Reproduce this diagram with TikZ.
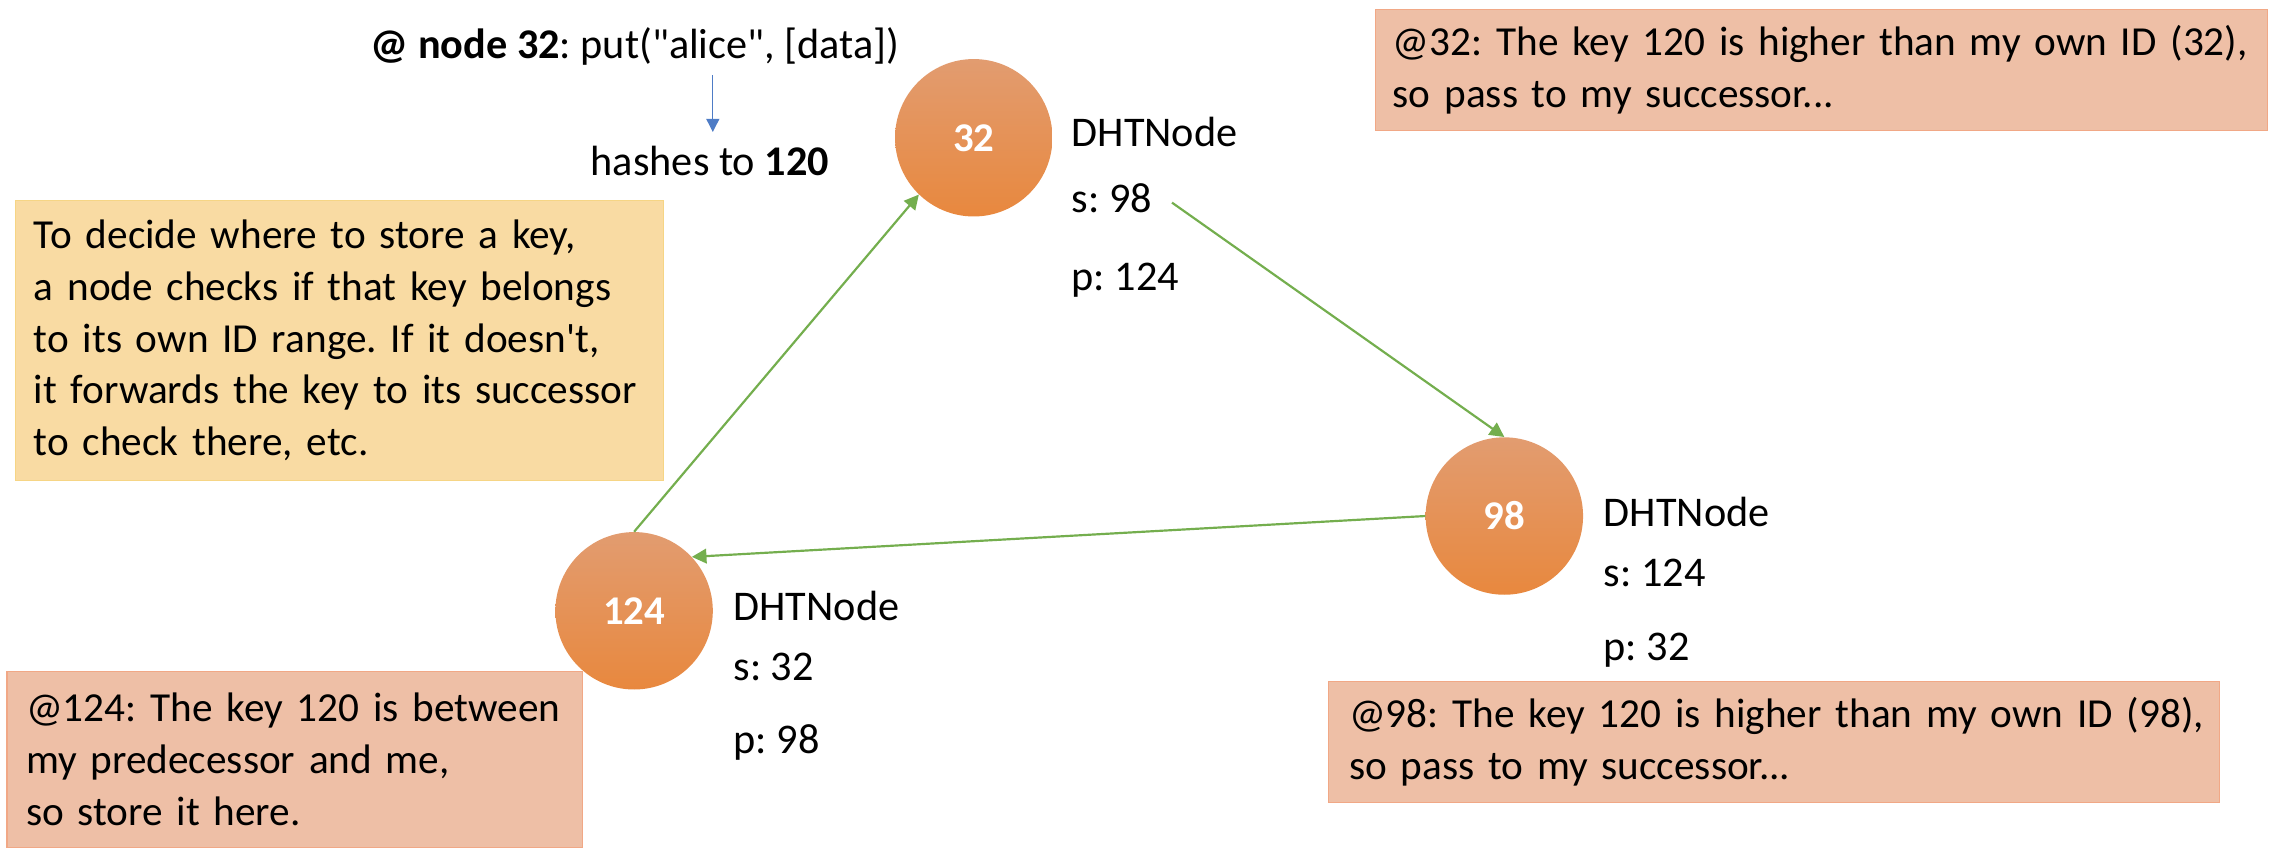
\documentclass[tikz,border=0pt]{standalone}
\usepackage{fontspec}
\setmainfont{Carlito}[Ligatures=TeXOff]
\frenchspacing
\usetikzlibrary{shapes.geometric,arrows.meta}
\definecolor{salmon}{HTML}{EEBFA6}
\definecolor{salmonline}{HTML}{F1A886}
\definecolor{yel}{HTML}{F9DBA3}
\definecolor{yelline}{HTML}{F6D585}
\definecolor{ctop}{HTML}{E29C70}
\definecolor{cbot}{HTML}{E8883E}
\definecolor{grn}{HTML}{74AE4E}
\definecolor{blu}{HTML}{4E7CC6}
\begin{document}
\begin{tikzpicture}[x=1pt,y=-1pt,
  txt/.style={font=\fontsize{29}{35.5}\selectfont},
  boxtxt/.style={font=\fontsize{28.3}{35.5}\selectfont},
  dht/.style={circle, minimum size=108pt, inner sep=0pt,
    top color=ctop, bottom color=cbot, draw=none, text=white,
    font=\fontsize{28}{30}\selectfont\bfseries},
  lbl/.style={txt, anchor=base west, inner sep=0pt},
  notebox/.style={boxtxt, draw=salmonline, fill=salmon, line width=1pt, align=left,
    anchor=north west, inner ysep=0pt},
  yelbox/.style={notebox, draw=yelline, fill=yel},
  link/.style={draw=grn, line width=1.5pt, -{Triangle[length=10pt,width=10pt]}},
  hash/.style={draw=blu, line width=0.8pt, -{Triangle[length=9pt,width=9pt]}}
]
\useasboundingbox (0,0) rectangle (1560,587);

% title and hash
\node[lbl] (title) at (254,40) {\textbf{@ node 32}: put("alice", [data])};
\node[txt, anchor=base, inner sep=0pt] (hash) at (487,120.5) {hashes to \textbf{120}};
\coordinate (hfrom) at (489,51.5);
\coordinate (hto) at (489,90.5);
\draw[hash] (hfrom) -- (hto);

% DHT nodes
\node[dht] (n32) at (668,94.5) {32};
\node[dht] (n98) at (1032,354) {98};
\node[dht] (n124) at (435,419) {124};

\node[lbl] (d32) at (735,100.6) {DHTNode};
\node[lbl] (s32) at (735,145.7) {s: 98};
\node[lbl] (p32) at (735,199) {p: 124};

\node[lbl] (d98) at (1100,361.5) {DHTNode};
\node[lbl] (s98) at (1100,402.5) {s: 124};
\node[lbl] (p98) at (1100,452.8) {p: 32};

\node[lbl] (d124) at (503,426) {DHTNode};
\node[lbl] (s124) at (503,466.5) {s: 32};
\node[lbl] (p124) at (503,516.7) {p: 98};

% links
\coordinate (sfrom) at (804,139);
\draw[link] (n124.north) -- (n32.226);
\draw[link] (sfrom) -- (n98.north);
\draw[link] (n98.west) -- (n124.43);

% notes
\node[yelbox, inner xsep=12.8pt, text width=419pt, minimum height=192pt] (expl) at (10,137)
  {\mbox{To decide where to store a key,}\\\mbox{a node checks if that key belongs}\\\mbox{to its own ID range. If it doesn't,}\\\mbox{it forwards the key to its successor}\\\mbox{to check there, etc.}};
\node[notebox, inner xsep=12pt, text width=588pt, minimum height=83pt] (note32) at (943,6)
  {\mbox{@32: The key 120 is higher than my own ID (32),}\\\mbox{so pass to my successor...}};
\node[notebox, inner xsep=14pt, text width=583pt, minimum height=83pt] (note98) at (911,467)
  {\mbox{@98: The key 120 is higher than my own ID (98),}\\\mbox{so pass to my successor...}};
\node[notebox, inner xsep=13pt, text width=368.6pt, minimum height=121pt] (note124) at (4.4,460)
  {\mbox{@124: The key 120 is between}\\\mbox{my predecessor and me,}\\\mbox{so store it here.}};
\end{tikzpicture}
\end{document}
